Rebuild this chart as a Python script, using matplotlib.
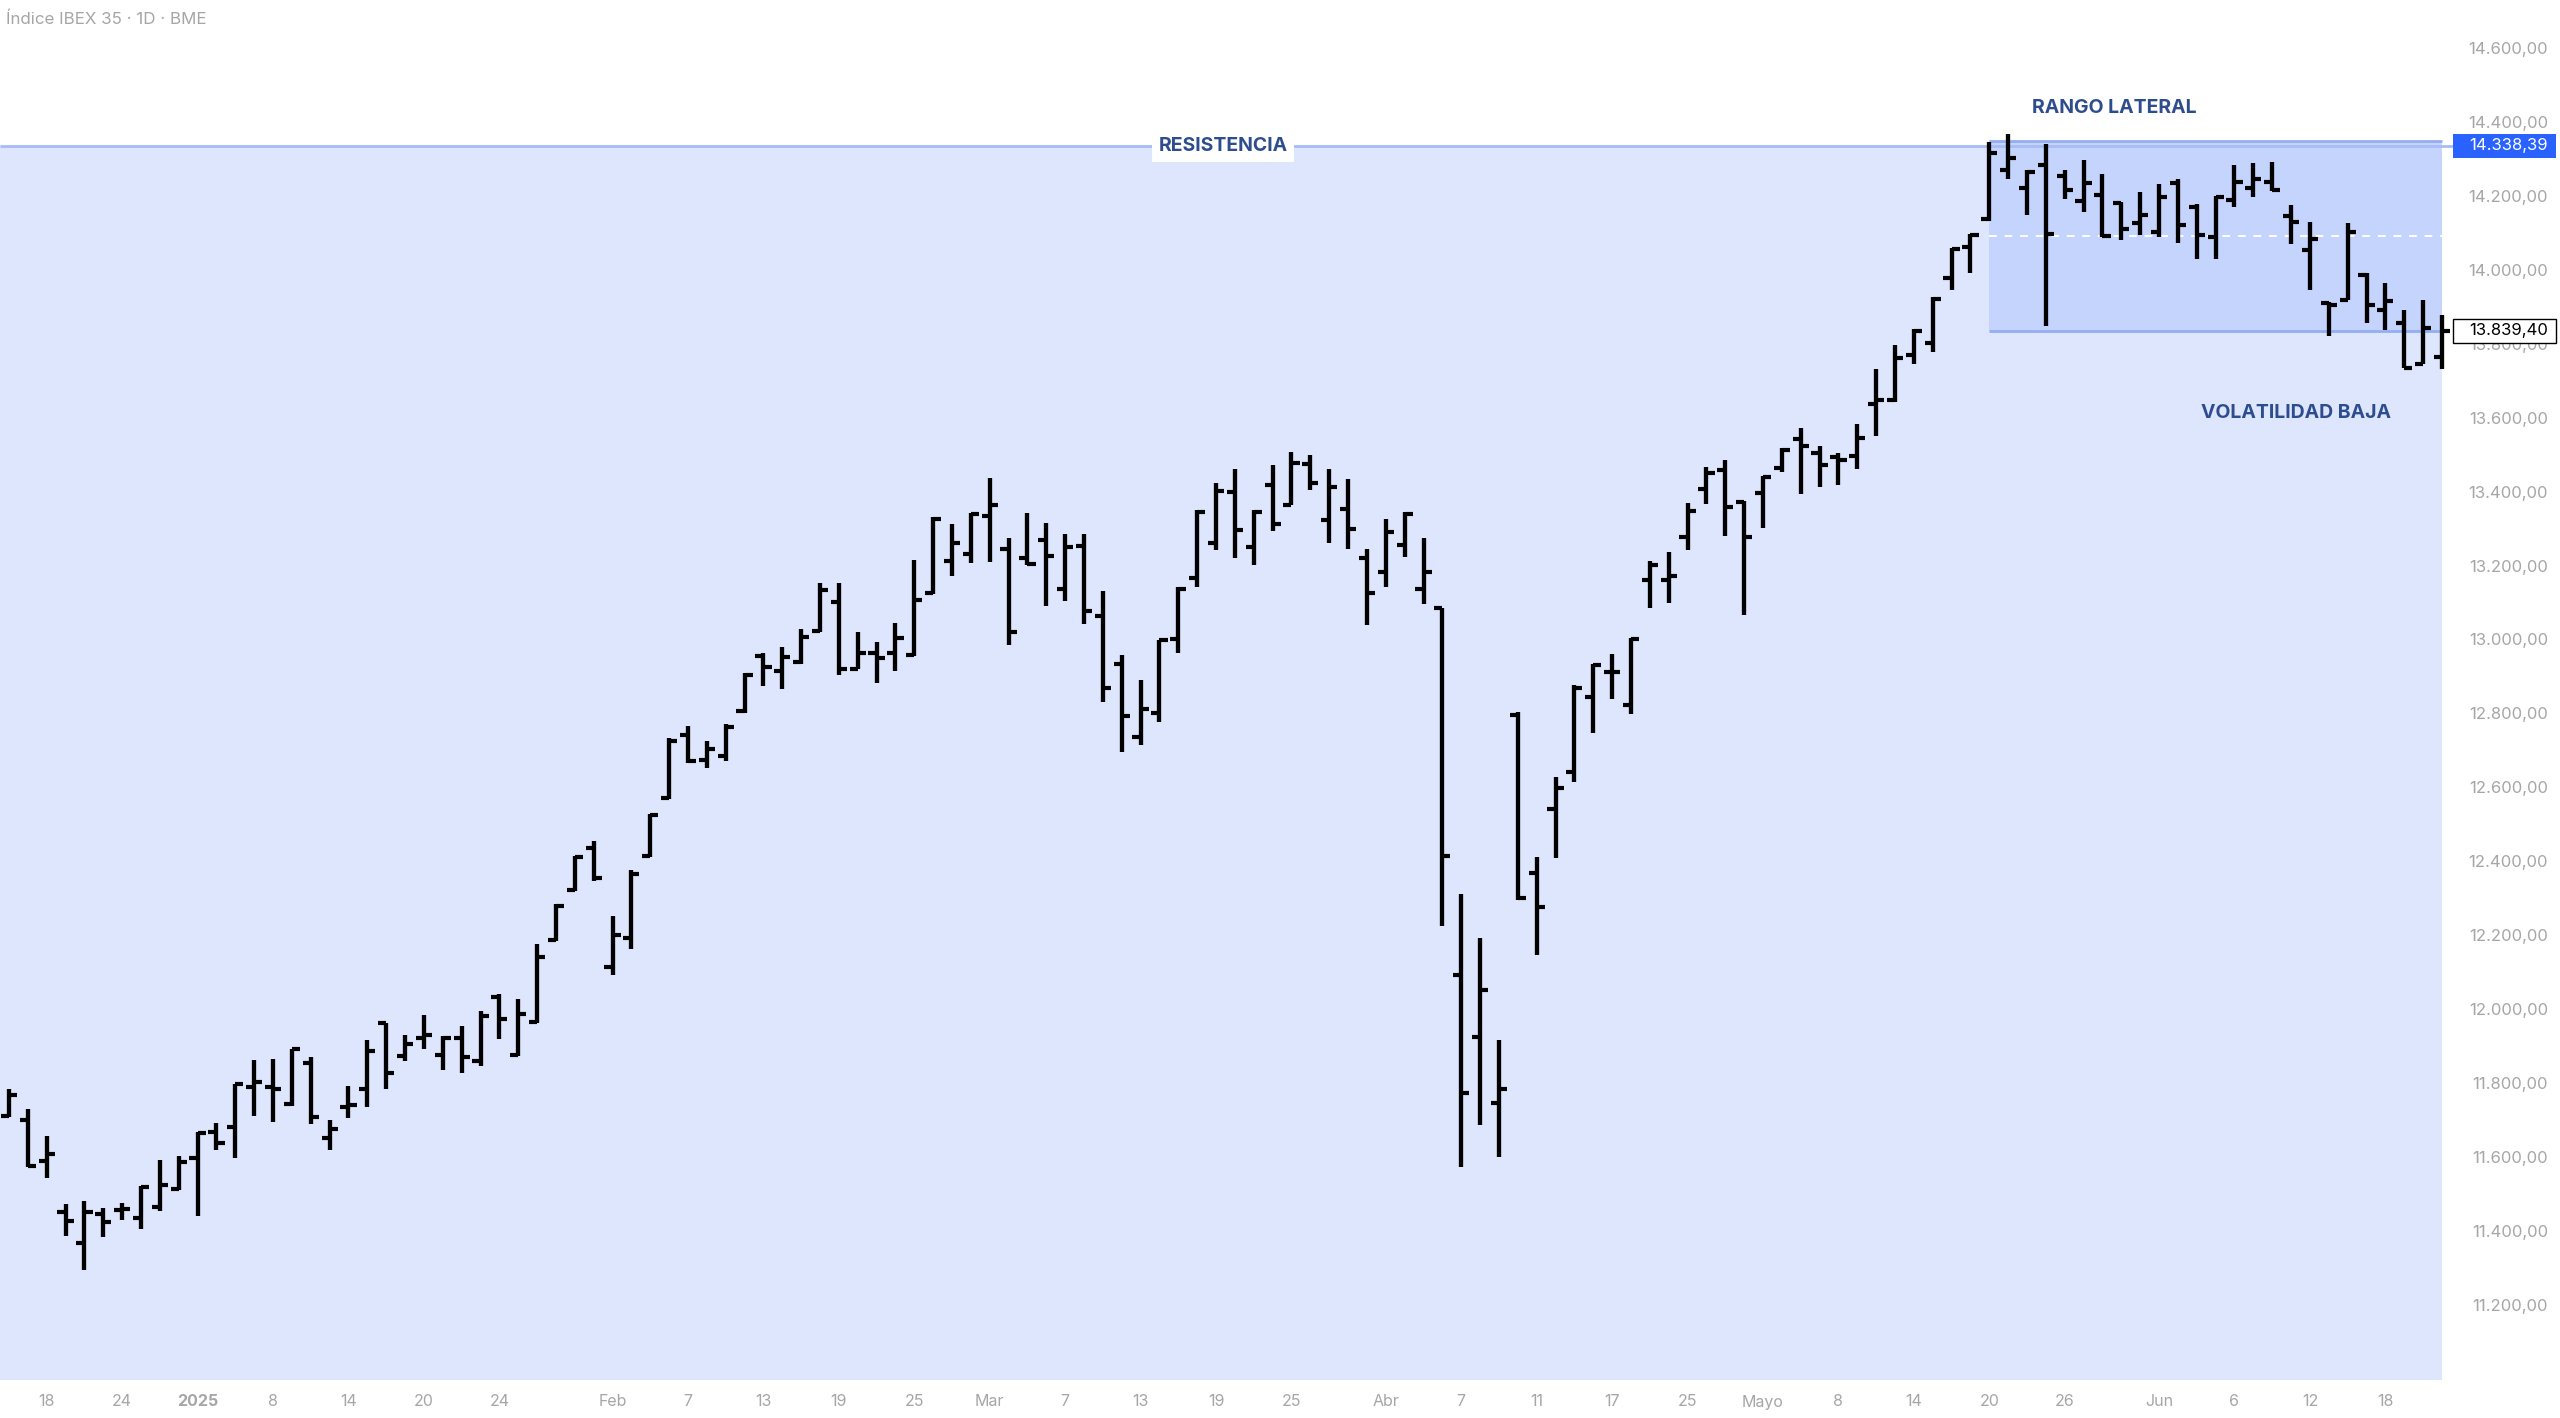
import matplotlib
matplotlib.use("Agg")
import matplotlib.pyplot as plt
from matplotlib.patches import Rectangle
from matplotlib.transforms import blended_transform_factory

# Daily bars, IBEX 35
dates = [
    "2024-12-16", "2024-12-17", "2024-12-18", "2024-12-19", "2024-12-20",
    "2024-12-23", "2024-12-24", "2024-12-27", "2024-12-30", "2024-12-31",
    "2025-01-02", "2025-01-03", "2025-01-06", "2025-01-07", "2025-01-08",
    "2025-01-09", "2025-01-10", "2025-01-13", "2025-01-14", "2025-01-15",
    "2025-01-16", "2025-01-17", "2025-01-20", "2025-01-21", "2025-01-22",
    "2025-01-23", "2025-01-24", "2025-01-27", "2025-01-28", "2025-01-29",
    "2025-01-30", "2025-01-31", "2025-02-03", "2025-02-04", "2025-02-05",
    "2025-02-06", "2025-02-07", "2025-02-10", "2025-02-11", "2025-02-12",
    "2025-02-13", "2025-02-14", "2025-02-17", "2025-02-18", "2025-02-19",
    "2025-02-20", "2025-02-21", "2025-02-24", "2025-02-25", "2025-02-26",
    "2025-02-27", "2025-02-28", "2025-03-03", "2025-03-04", "2025-03-05",
    "2025-03-06", "2025-03-07", "2025-03-10", "2025-03-11", "2025-03-12",
    "2025-03-13", "2025-03-14", "2025-03-17", "2025-03-18", "2025-03-19",
    "2025-03-20", "2025-03-21", "2025-03-24", "2025-03-25", "2025-03-26",
    "2025-03-27", "2025-03-28", "2025-03-31", "2025-04-01", "2025-04-02",
    "2025-04-03", "2025-04-04", "2025-04-07", "2025-04-08", "2025-04-09",
    "2025-04-10", "2025-04-11", "2025-04-14", "2025-04-15", "2025-04-16",
    "2025-04-17", "2025-04-22", "2025-04-23", "2025-04-24", "2025-04-25",
    "2025-04-28", "2025-04-29", "2025-04-30", "2025-05-02", "2025-05-05",
    "2025-05-06", "2025-05-07", "2025-05-08", "2025-05-09", "2025-05-12",
    "2025-05-13", "2025-05-14", "2025-05-15", "2025-05-16", "2025-05-19",
    "2025-05-20", "2025-05-21", "2025-05-22", "2025-05-23", "2025-05-26",
    "2025-05-27", "2025-05-28", "2025-05-29", "2025-05-30", "2025-06-02",
    "2025-06-03", "2025-06-04", "2025-06-05", "2025-06-06", "2025-06-09",
    "2025-06-10", "2025-06-11", "2025-06-12", "2025-06-13", "2025-06-16",
    "2025-06-17", "2025-06-18", "2025-06-19", "2025-06-20", "2025-06-23",
]

opens = [
    11715, 11705, 11595, 11457, 11372, 11451, 11462, 11441, 11470, 11519,
    11602, 11673, 11686, 11793, 11793, 11749, 11859, 11656, 11740, 11789,
    11967, 11879, 11928, 11882, 11928, 11865, 12038, 11882, 11970, 12192,
    12326, 12441, 12118, 12197, 12419, 12575, 12745, 12679, 12690, 12812,
    12960, 12919, 12943, 13027, 13106, 12923, 12968, 12968, 12963, 13131,
    13215, 13235, 13339, 13250, 13224, 13272, 13141, 13257, 13067, 12938,
    12741, 12805, 13005, 13171, 13264, 13402, 13254, 13423, 13368, 13479,
    13328, 13358, 13224, 13186, 13259, 13140, 13089, 12096, 11930, 11752,
    12799, 12373, 12546, 12645, 12848, 12917, 12826, 13166, 13164, 13281,
    13412, 13462, 13376, 13401, 13469, 13545, 13509, 13498, 13499, 13640,
    13651, 13774, 13806, 13980, 14066, 14141, 14272, 14226, 14287, 14257,
    14189, 14207, 14185, 14129, 14106, 14239, 14174, 14091, 14192, 14224,
    14242, 14149, 14057, 13914, 13922, 13989, 13896, 13860, 13750, 13768,
]
highs = [
    11790, 11735, 11663, 11477, 11485, 11467, 11480, 11526, 11598, 11609,
    11673, 11698, 11803, 11867, 11869, 11898, 11875, 11705, 11796, 11921,
    11967, 11935, 11989, 11931, 11960, 11999, 12045, 12031, 12182, 12288,
    12419, 12459, 12256, 12382, 12533, 12738, 12771, 12731, 12775, 12913,
    12968, 12983, 13032, 13156, 13156, 13023, 12997, 13049, 13220, 13334,
    13316, 13346, 13442, 13279, 13346, 13319, 13290, 13290, 13135, 12963,
    12894, 13002, 13146, 13353, 13427, 13465, 13353, 13476, 13512, 13502,
    13465, 13438, 13250, 13331, 13348, 13279, 13089, 12317, 12198, 11921,
    12808, 12416, 12631, 12880, 12937, 12965, 13008, 13215, 13240, 13374,
    13471, 13488, 13379, 13445, 13521, 13575, 13526, 13507, 13586, 13735,
    13801, 13844, 13929, 14063, 14099, 14350, 14371, 14272, 14343, 14273,
    14299, 14262, 14188, 14215, 14235, 14249, 14181, 14204, 14287, 14291,
    14296, 14179, 14134, 13917, 14131, 13995, 13967, 13894, 13923, 13881,
]
lows = [
    11712, 11578, 11549, 11392, 11299, 11389, 11436, 11411, 11460, 11516,
    11446, 11624, 11602, 11715, 11700, 11744, 11693, 11624, 11710, 11740,
    11789, 11865, 11898, 11839, 11833, 11852, 11924, 11879, 11967, 12190,
    12323, 12352, 12097, 12167, 12415, 12572, 12671, 12656, 12676, 12805,
    12879, 12871, 12938, 13023, 12908, 12923, 12886, 12919, 12960, 13127,
    13175, 13210, 13213, 12990, 13205, 13094, 13109, 13046, 12834, 12701,
    12720, 12782, 12968, 13146, 13245, 13224, 13205, 13298, 13368, 13408,
    13264, 13250, 13042, 13146, 13227, 13101, 12229, 11577, 11692, 11605,
    12301, 12150, 12413, 12618, 12751, 12844, 12804, 13090, 13104, 13246,
    13370, 13284, 13069, 13306, 13458, 13398, 13417, 13422, 13464, 13553,
    13645, 13749, 13780, 13949, 13995, 14136, 14248, 14152, 13851, 14194,
    14161, 14091, 14084, 14097, 14093, 14075, 14032, 14034, 14174, 14201,
    14217, 14073, 13950, 13824, 13922, 13860, 13842, 13737, 13748, 13734,
]
closes = [
    11772, 11581, 11612, 11431, 11457, 11429, 11465, 11524, 11529, 11591,
    11671, 11642, 11803, 11808, 11790, 11896, 11712, 11681, 11746, 11891,
    11833, 11911, 11935, 11926, 11875, 11986, 11977, 11992, 12146, 12283,
    12415, 12360, 12204, 12370, 12530, 12731, 12676, 12708, 12768, 12908,
    12931, 12957, 13012, 13138, 12923, 12968, 12953, 13008, 13112, 13331,
    13264, 13343, 13368, 13024, 13208, 13230, 13254, 13082, 12874, 12797,
    12815, 13002, 13141, 13349, 13405, 13301, 13349, 13316, 13482, 13428,
    13417, 13304, 13131, 13294, 13344, 13186, 12418, 11778, 12057, 11790,
    12305, 12281, 12603, 12874, 12935, 12917, 13006, 13206, 13175, 13351,
    13455, 13363, 13281, 13443, 13517, 13526, 13477, 13488, 13550, 13651,
    13765, 13839, 13924, 14061, 14097, 14320, 14305, 14269, 14099, 14219,
    14239, 14095, 14113, 14152, 14199, 14124, 14097, 14201, 14242, 14248,
    14219, 14134, 14086, 13908, 14106, 13908, 13920, 13739, 13845, 13839.40,
]

# x-axis labels and the session they sit on
tick_labels = ["18", "24", "2025", "8", "14", "20", "24", "Feb", "7", "13", "19", "25",
               "Mar", "7", "13", "19", "25", "Abr", "7", "11", "17", "25", "Mayo",
               "8", "14", "20", "26", "Jun", "6", "12", "18"]
tick_dates = ["2024-12-18", "2024-12-24", "2025-01-02", "2025-01-08", "2025-01-14",
              "2025-01-20", "2025-01-24", "2025-02-03", "2025-02-07", "2025-02-13",
              "2025-02-19", "2025-02-25", "2025-03-03", "2025-03-07", "2025-03-13",
              "2025-03-19", "2025-03-25", "2025-04-01", "2025-04-07", "2025-04-11",
              "2025-04-17", "2025-04-25", "2025-05-02", "2025-05-08", "2025-05-14",
              "2025-05-20", "2025-05-26", "2025-06-02", "2025-06-06", "2025-06-12",
              "2025-06-18"]

price_levels = [11200, 11400, 11600, 11800, 12000, 12200, 12400, 12600, 12800,
                13000, 13200, 13400, 13600, 13800, 14000, 14200, 14400, 14600]

resistance = 14338.39
range_top = 14352
range_bottom = 13839.40
range_start = "2025-05-20"
last_price = closes[-1]

FONT = ["Inter", "DejaVu Sans"]
TEXT_BLUE = "#2e4d8f"
GRAY = "#a6a6a6"


def es_fmt(v):
    s = f"{v:,.2f}"
    return s.replace(",", "X").replace(".", ",").replace("X", ".")


fig = plt.figure(figsize=(25.6, 14.18), dpi=100)
fig.patch.set_facecolor("white")
ax = fig.add_axes([0, 0, 1, 1])
ax.set_axis_off()

W, H = 2560, 1418
step = 18.86
x0 = 9
ax.set_xlim(-x0 / step, (W - x0) / step)
ax.set_ylim(14000 - (H - 271.1) / 0.3699, 14000 + 271.1 / 0.3699)

x = list(range(len(dates)))
idx = {d: i for i, d in enumerate(dates)}
plot_right = (2442 - x0) / step
plot_bottom = 14000 - (1380 - 271.1) / 0.3699
xl = ax.get_xlim()[0]

# shaded zone under the resistance
ax.add_patch(Rectangle((xl, plot_bottom), plot_right - xl, resistance - plot_bottom,
                       facecolor="#dee6fd", edgecolor="none", zorder=0))

# lateral range box
rs = idx[range_start]
ax.add_patch(Rectangle((rs, range_bottom), plot_right - rs, range_top - range_bottom,
                       facecolor="#c5d4fd", edgecolor="none", zorder=1))
ax.hlines([range_top, range_bottom], rs, plot_right, color="#95adf2", lw=2, zorder=2)
ax.hlines((range_top + range_bottom) / 2, rs, plot_right, color="white", lw=1.4,
          linestyles=(0, (4, 4)), zorder=2)

# resistance line
ax.hlines(resistance, xl, (2453 - x0) / step, color="#a7bcf5", lw=2, zorder=2)

# OHLC bars
w = 0.43
ax.vlines(x, lows, highs, color="black", lw=3.1, zorder=5)
ax.hlines(opens, [i - w for i in x], x, color="black", lw=3.0, zorder=5)
ax.hlines(closes, x, [i + w for i in x], color="black", lw=3.0, zorder=5)

# annotations
ax.text((1223 - x0) / step, resistance, "RESISTENCIA", ha="center", va="center",
        fontsize=14, fontweight="bold", color=TEXT_BLUE, family=FONT, zorder=6,
        bbox=dict(boxstyle="square,pad=0.35", fc="white", ec="none"))
ax.text((2114 - x0) / step, 14441, "RANGO LATERAL", ha="center", va="center",
        fontsize=14, fontweight="bold", color=TEXT_BLUE, family=FONT, zorder=6)
ax.text((2296 - x0) / step, 13616, "VOLATILIDAD BAJA", ha="center", va="center",
        fontsize=14, fontweight="bold", color=TEXT_BLUE, family=FONT, zorder=6)

# title
fig.text(6 / W, 1 - 19 / H, "Índice IBEX 35 · 1D · BME", ha="left", va="center",
         fontsize=12.2, color=GRAY, family=FONT)

# price scale
ty = blended_transform_factory(ax.transAxes, ax.transData)
for lv in price_levels:
    ax.text(2548 / W, lv, es_fmt(lv), transform=ty, ha="right", va="center",
            fontsize=12, color=GRAY, family=FONT, zorder=3)

box_h = 24 / 0.3699
ax.add_patch(Rectangle((2453 / W, resistance - box_h / 2), 103 / W, box_h, transform=ty,
                       facecolor="#2962ff", edgecolor="none", zorder=7, clip_on=False))
ax.text(2548 / W, resistance, es_fmt(resistance), transform=ty, ha="right", va="center",
        fontsize=12, color="white", family=FONT, zorder=8)
ax.add_patch(Rectangle((2453 / W, last_price - box_h / 2), 103 / W, box_h, transform=ty,
                       facecolor="white", edgecolor="black", lw=1, zorder=7, clip_on=False))
ax.text(2548 / W, last_price, es_fmt(last_price), transform=ty, ha="right", va="center",
        fontsize=12, color="black", family=FONT, zorder=8)

# time scale
tx = blended_transform_factory(ax.transData, ax.transAxes)
for lab, d in zip(tick_labels, tick_dates):
    ax.text(idx[d], 1 - 1402 / H, lab, transform=tx, ha="center", va="center",
            fontsize=11.5, color=GRAY, family=FONT,
            fontweight="bold" if lab == "2025" else "normal")

fig.savefig("out.png", dpi=100, facecolor="white")
